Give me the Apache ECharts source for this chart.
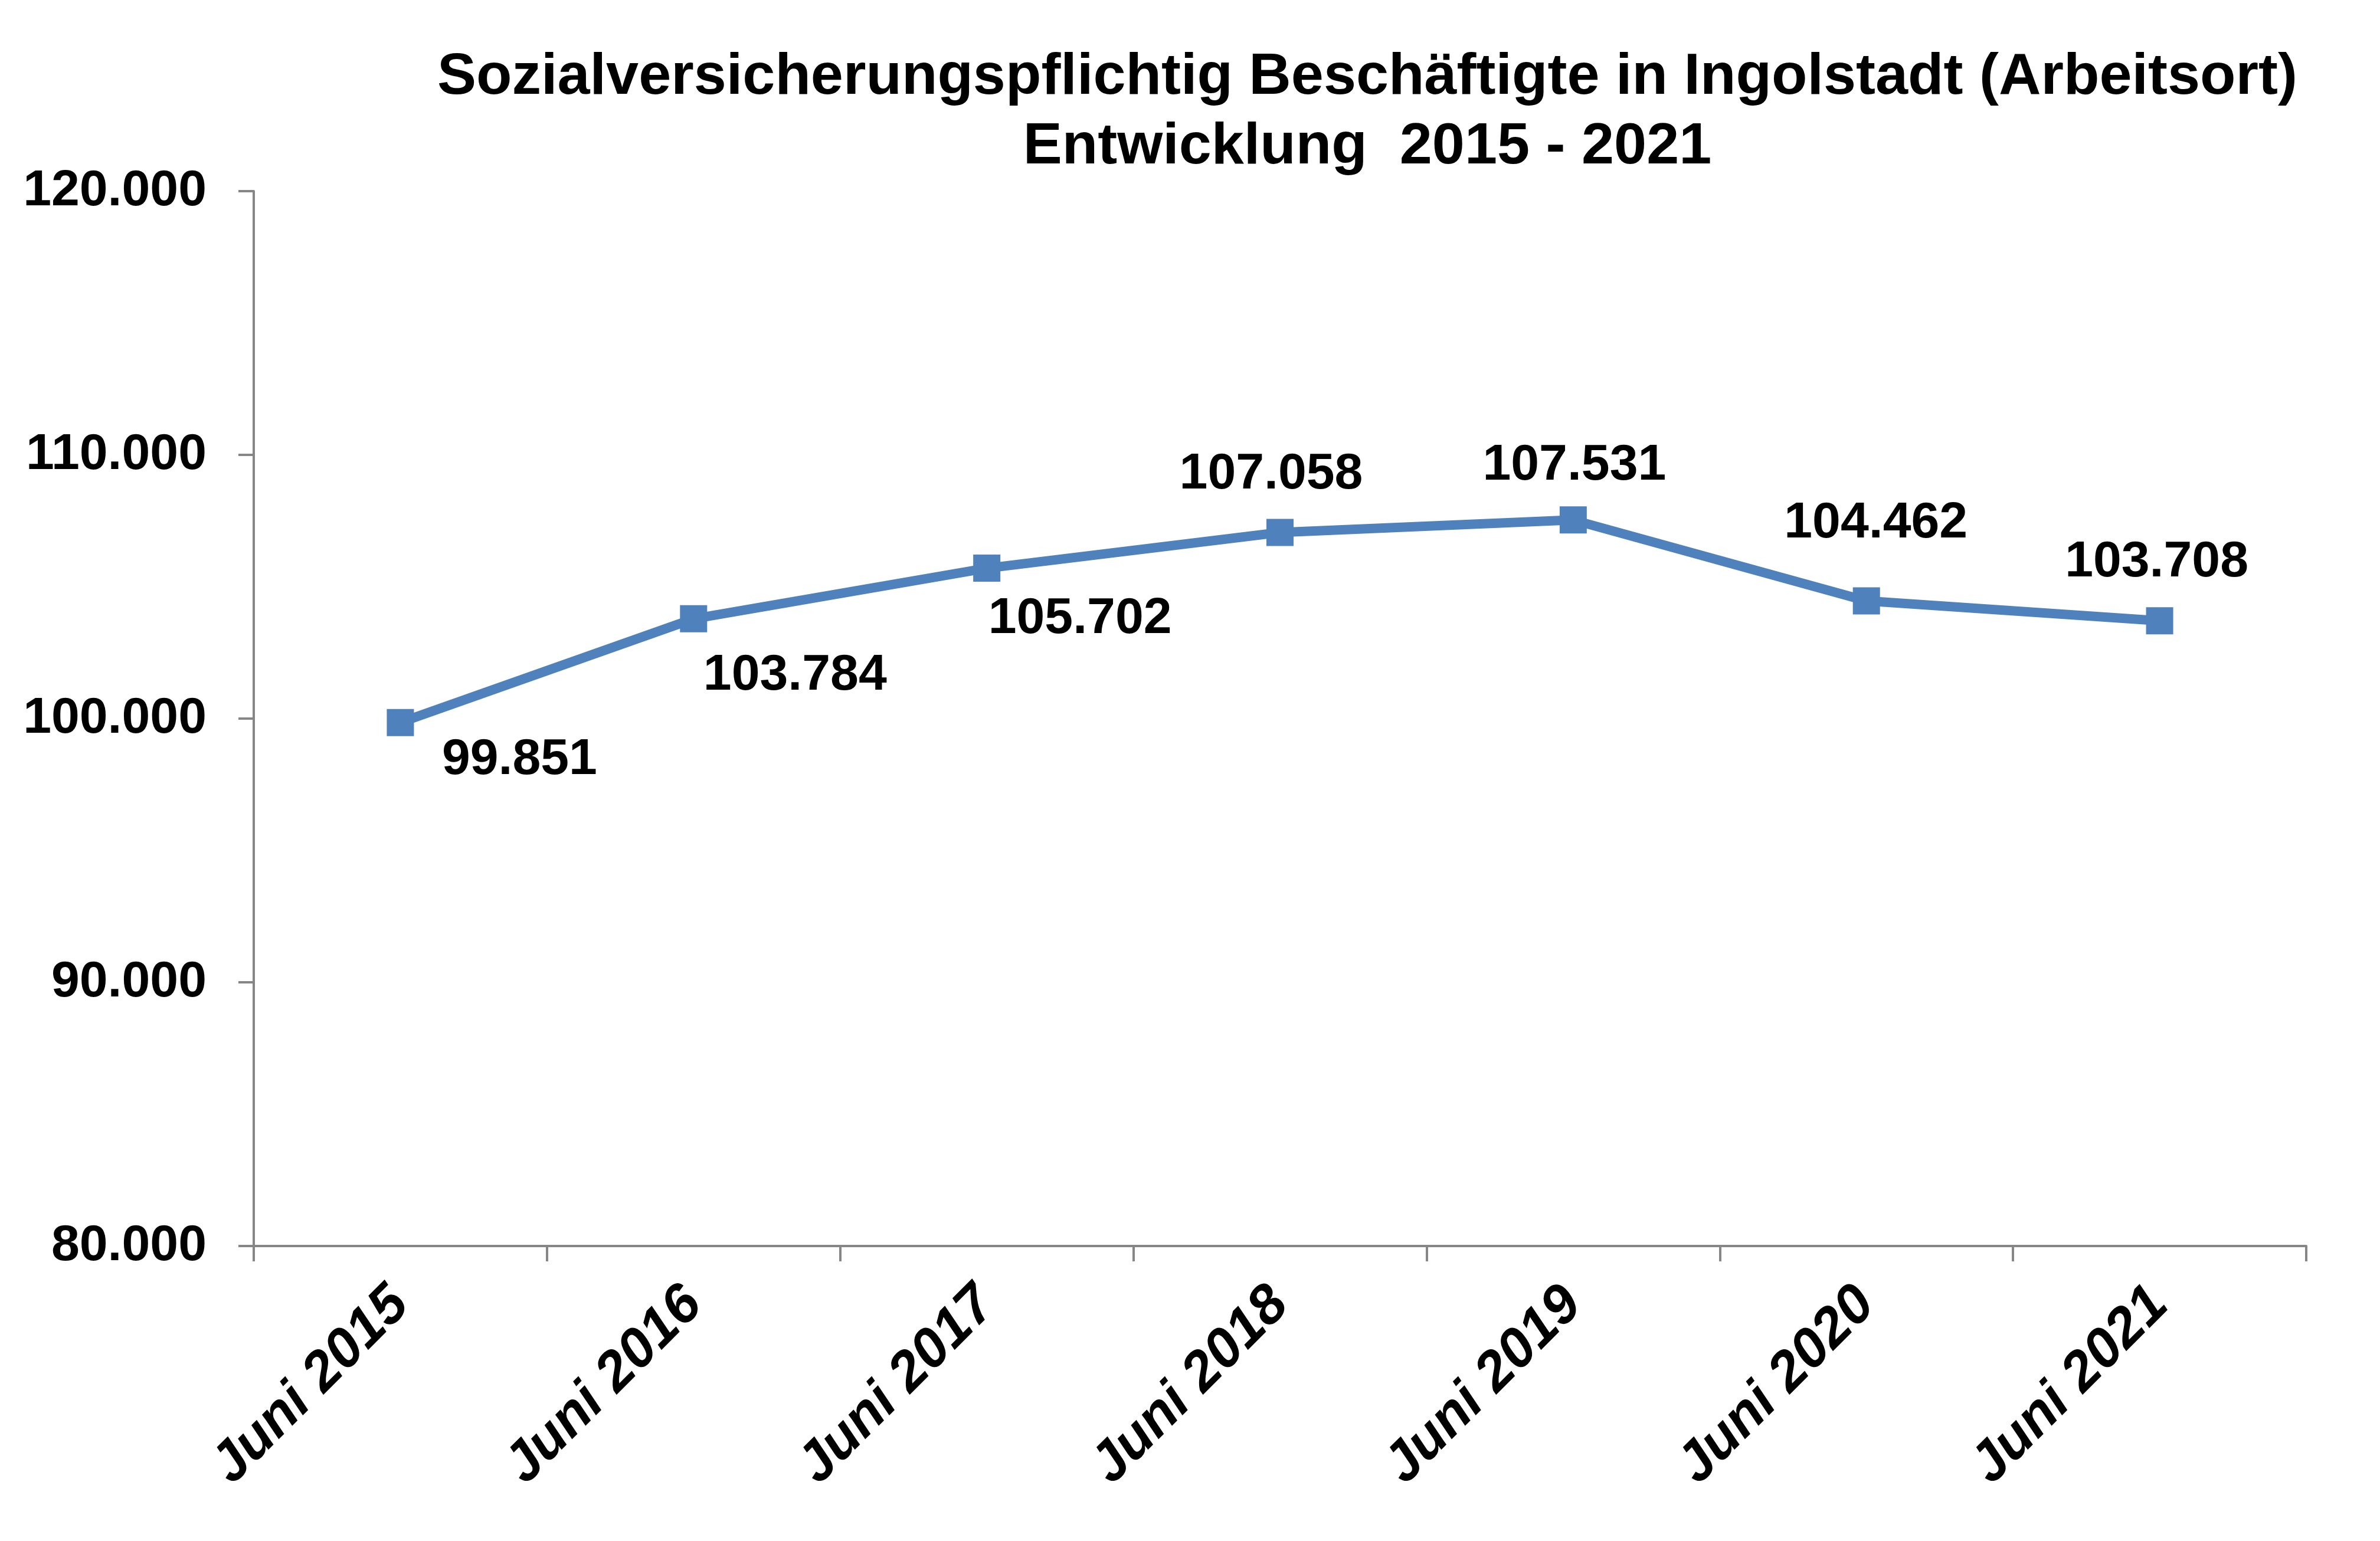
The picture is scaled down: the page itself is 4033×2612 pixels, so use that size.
<!DOCTYPE html>
<html>
<head>
<meta charset="utf-8">
<script src="https://cdn.jsdelivr.net/npm/echarts@6/dist/echarts.min.js"></script>
<style>
  html, body { margin: 0; padding: 0; background: #fff; }
  #root { width: 4033px; height: 2612px; }
</style>
</head>
<body>
<div id="root"></div>
<script>
const titleLines = ['Sozialversicherungspflichtig Beschäftigte in Ingolstadt (Arbeitsort)', 'Entwicklung  2015 - 2021']
const categories = ['Juni 2015', 'Juni 2016', 'Juni 2017', 'Juni 2018', 'Juni 2019', 'Juni 2020', 'Juni 2021']
const employees = [99851, 103784, 105702, 107058, 107531, 104462, 103708]
const yTicks = [80000, 90000, 100000, 110000, 120000]

// german thousands separator
const fmt = v => String(v).replace(/\B(?=(\d{3})+(?!\d))/g, '.')

// where excel dropped each label, relative to its marker
const labelOffsets = [[202, 64], [172, 96], [158, 86], [-15, -98], [2, -92], [16, -131], [-5, -99]]

const font = '"Liberation Sans", Arial, sans-serif'
const chart = echarts.init(document.getElementById('root'))

chart.setOption({
  animation: false,
  backgroundColor: '#fff',
  title: {
    text: titleLines.join('\n'),
    left: 2312,
    top: 68,
    textAlign: 'center',
    textStyle: { fontFamily: font, fontWeight: 'bold', fontSize: 99, lineHeight: 118, color: '#000' }
  },
  grid: { left: 430, right: 125, top: 324, bottom: 500 },
  xAxis: {
    type: 'category',
    data: categories,
    boundaryGap: true,
    axisLine: { lineStyle: { color: '#868686', width: 4 } },
    axisTick: { show: true, length: 26, lineStyle: { color: '#868686', width: 4 } },
    axisLabel: {
      rotate: 45,
      margin: 85,
      fontFamily: font,
      fontWeight: 'bold',
      fontStyle: 'italic',
      fontSize: 94,
      color: '#000'
    }
  },
  yAxis: {
    type: 'value',
    min: yTicks[0],
    max: yTicks[yTicks.length - 1],
    interval: 10000,
    splitLine: { show: false },
    axisLine: { show: true, lineStyle: { color: '#868686', width: 4 } },
    axisTick: { show: true, length: 26, lineStyle: { color: '#868686', width: 4 } },
    axisLabel: {
      margin: 80,
      formatter: fmt,
      fontFamily: font,
      fontWeight: 'bold',
      fontSize: 86,
      color: '#000'
    }
  },
  series: [{
    type: 'line',
    data: employees.map((v, i) => ({
      value: v,
      label: { offset: labelOffsets[i] }
    })),
    symbol: 'rect',
    symbolSize: 46,
    itemStyle: { color: '#4F81BD' },
    lineStyle: { color: '#4F81BD', width: 16 },
    label: {
      show: true,
      position: 'inside',
      formatter: p => fmt(p.value),
      fontFamily: font,
      fontWeight: 'bold',
      fontSize: 86,
      color: '#000'
    }
  }]
})
</script>
</body>
</html>
